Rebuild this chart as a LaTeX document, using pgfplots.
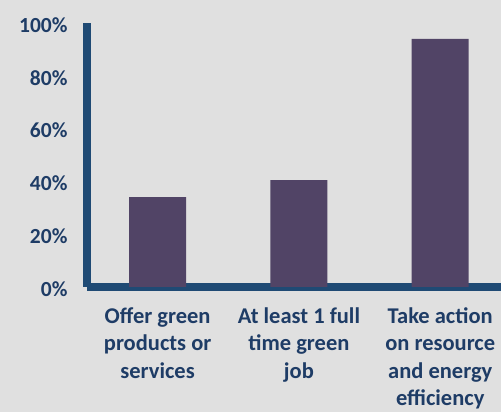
\documentclass[border=0pt]{standalone}
\usepackage{fontspec}
\setmainfont{Carlito}
\usepackage{pgfplots}
\pgfplotsset{compat=1.18}
\definecolor{bg}{HTML}{E0E0E0}
\definecolor{axisblue}{HTML}{1F4A74}
\definecolor{txtblue}{HTML}{1E3C66}
\definecolor{barpurple}{HTML}{514466}
\begin{document}
\begin{tikzpicture}[x=1pt,y=1pt]
\fill[bg] (0,0) rectangle (501,412);
\begin{axis}[
  at={(87pt,125pt)}, anchor=south west,
  scale only axis,
  width=414pt, height=264pt,
  xmin=-0.5, xmax=2.43,
  ymin=0, ymax=100,
  axis lines*=left,
  axis line style={line width=8pt, color=axisblue, -},
  major tick length=0pt,
  xtick={0,1,2},
  xticklabels={{Offer green\\products or\\services},{At least 1 full\\time green\\job},{Take action\\on resource\\and energy\\efficiency}},
  xticklabel style={align=center, text=txtblue, font=\fontsize{22.5}{27.4}\selectfont\bfseries, yshift=-17pt},
  ytick={0,20,40,60,80,100},
  yticklabels={0\%,20\%,40\%,60\%,80\%,100\%},
  yticklabel style={text=txtblue, font=\fontsize{21.5}{25}\selectfont\bfseries, xshift=-16pt, yshift=-2pt},
  ybar, bar width=57pt,
  bar shift=0pt,
]
\addplot[fill=barpurple, draw=none] coordinates {(0,34) (1,40.5) (2,94)};
\end{axis}
\pgfresetboundingbox
\useasboundingbox (0,0) rectangle (501,412);
\end{tikzpicture}
\end{document}
